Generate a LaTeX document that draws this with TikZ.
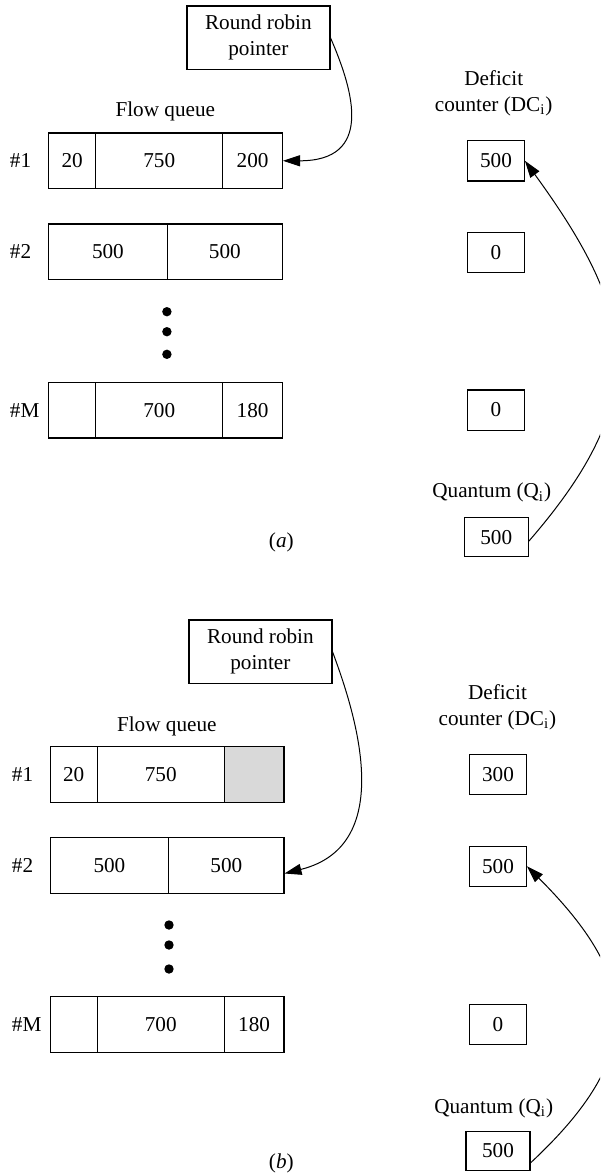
\documentclass[tikz,border=0pt]{standalone}
\usepackage{fontspec}
\setmainfont{Liberation Serif}
\usetikzlibrary{arrows.meta}

\definecolor{cellgray}{gray}{0.85}

\tikzset{
  cell/.style={draw, line width=0.6pt, minimum height=27.75pt, inner sep=0pt},
  cntbox/.style={draw, line width=0.6pt, minimum width=28.3pt, minimum height=20.1pt, inner sep=0pt},
  qbox/.style={draw, line width=0.6pt, minimum width=32pt, minimum height=19.6pt, inner sep=0pt},
  rrbox/.style={draw, line width=0.6pt, minimum width=71.5pt, minimum height=31.8pt, align=center, inner sep=0pt},
  rowlbl/.style={anchor=west, inner sep=0pt},
  ptr/.style={line width=0.5pt, -{Triangle[length=8.5pt,width=5.5pt]}},
}

\begin{document}
\begin{tikzpicture}[x=0.5pt, y=-0.5pt, font=\fontsize{10.6}{13}\selectfont]
\useasboundingbox (0,0) rectangle (600,1173);
\clip (0,0) rectangle (600,1173);

% ---------- (a) ----------
\node[rrbox] (rrA) at (258.4,37.8) {Round robin\\pointer};
\node (fqA) at (165.3,111) {Flow queue};
\node[align=center] (dcLA) at (493.7,93) {Deficit\\counter (DC\textsubscript{i})};

\foreach \n/\y in {1/160.8, 2/251.7, M/410.2}
{   \node[rowlbl] (rowA\n) at (9.6,\y) {\#\n};
}

\node[cell, minimum width=23.55pt] (qA1a) at (72.15,160.8)  {20};
\node[cell, minimum width=63.5pt]  (qA1b) at (159.2,160.8)  {750};
\node[cell, minimum width=29.85pt] (qA1c) at (252.55,160.8) {200};
\node[cell, minimum width=59.3pt]  (qA2a) at (107.9,251.7)  {500};
\node[cell, minimum width=57.6pt]  (qA2b) at (224.8,251.7)  {500};
\node[cell, minimum width=23.55pt] (qAMa) at (72.15,410.2)  {};
\node[cell, minimum width=63.5pt]  (qAMb) at (159.2,410.2)  {700};
\node[cell, minimum width=29.85pt] (qAMc) at (252.55,410.2) {180};

\foreach \y in {311.7, 331.7, 354.3}
{   \fill (166.9,\y) circle (2.35pt);
}

\node[cntbox] (dcA1) at (496,160.8) {500};
\node[cntbox] (dcA2) at (496,252.3) {0};
\node[cntbox] (dcAM) at (496,410)   {0};
\node (qlA) at (491.8,492.7) {Quantum (Q\textsubscript{i})};
\node[qbox] (qA) at (496.2,537.2) {500};
\node (capA) at (281.3,542.3) {(\textit{a})};

\draw[ptr] (rrA.east) .. controls +(24,55) and +(90,0) .. (qA1c.east);
\draw[ptr] ([yshift=-2pt]qA.east) .. controls +(124.6,-143.5) and +(111.7,153.7) .. (dcA1.east);

% ---------- (b) ----------
\node[rrbox] (rrB) at (260.4,651.7) {Round robin\\pointer};
\node (fqB) at (166.8,726) {Flow queue};
\node[align=center] (dcLB) at (497.5,707.2) {Deficit\\counter (DC\textsubscript{i})};

\foreach \n/\y in {1/774.5, 2/865.5, M/1024.5}
{   \node[rowlbl] (rowB\n) at (11.5,\y) {\#\n};
}

\node[cell, minimum width=23.55pt] (qB1a) at (73.65,774.5)  {20};
\node[cell, minimum width=63.5pt]  (qB1b) at (160.7,774.5)  {750};
\node[cell, minimum width=29.85pt, fill=cellgray] (qB1c) at (254.05,774.5) {};
\node[cell, minimum width=59.3pt]  (qB2a) at (109.4,865.5)  {500};
\node[cell, minimum width=57.6pt]  (qB2b) at (226.3,865.5)  {500};
\node[cell, minimum width=23.55pt] (qBMa) at (73.65,1024.5) {};
\node[cell, minimum width=63.5pt]  (qBMb) at (160.7,1024.5) {700};
\node[cell, minimum width=29.85pt] (qBMc) at (254.05,1024.5) {180};

\foreach \y in {925, 945, 969}
{   \fill (169,\y) circle (2.35pt);
}

\node[cntbox] (dcB1) at (498,774.5)  {300};
\node[cntbox] (dcB2) at (498,866.2)  {500};
\node[cntbox] (dcBM) at (498,1024.3) {0};
\node (qlB) at (493.7,1108.3) {Quantum (Q\textsubscript{i})};
\node[qbox] (qB) at (498,1150.8) {500};
\node (capB) at (281.3,1163.3) {(\textit{b})};

\draw[ptr] (rrB.east) .. controls +(21,56.4) and +(115,-28.75) .. ([yshift=-4pt]qB2b.east);
\draw[ptr] ([yshift=-6pt]qB.east) .. controls +(117,-109) and +(113,113) .. (dcB2.east);
\end{tikzpicture}
\end{document}
